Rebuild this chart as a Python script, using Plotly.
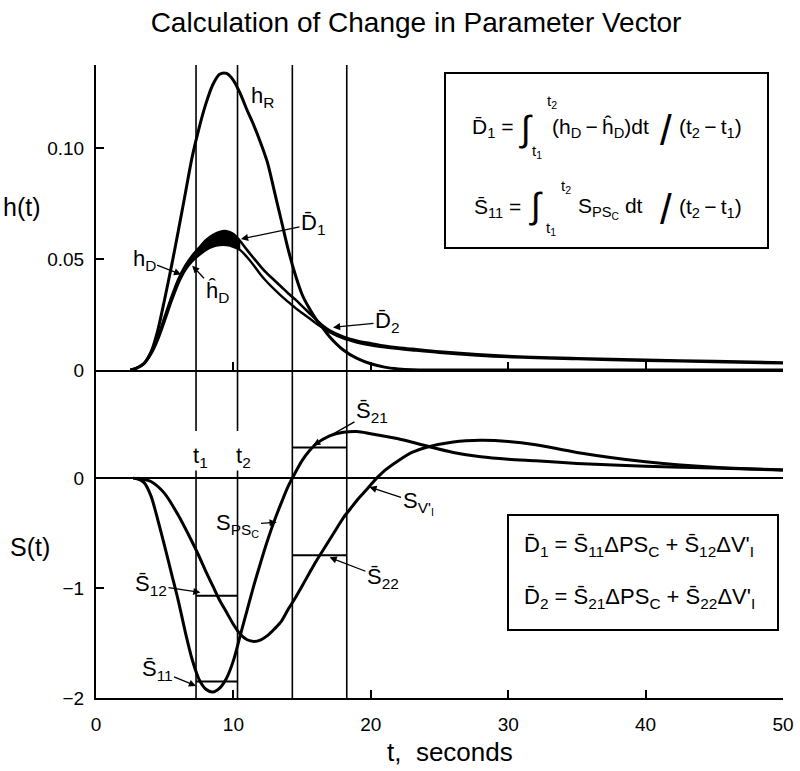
import plotly.graph_objects as go

# ---------------- data ----------------
T_TOP = [2.5, 3, 3.5, 4, 4.5, 5, 5.5, 6, 6.5, 7, 7.5, 8, 8.5, 9, 9.5, 10, 10.5, 11, 11.5, 12,
         12.5, 13, 13.5, 14, 14.5, 15, 15.5, 16, 16.5, 17, 18, 19, 20, 21, 22, 23, 25, 30, 35, 40, 45, 50]
H_R = [0, 0.001, 0.003, 0.008, 0.018, 0.032, 0.047, 0.063, 0.0795, 0.096, 0.109, 0.12, 0.1285, 0.1332,
       0.1336, 0.1305, 0.1245, 0.117, 0.11, 0.102, 0.093, 0.08, 0.067, 0.054, 0.043, 0.034, 0.028, 0.023,
       0.019, 0.015, 0.009, 0.0052, 0.0028, 0.0013, 0.0005, 0.0001, 0, 0, 0, 0, 0, 0]
H_D = [0, 0.001, 0.003, 0.008, 0.015, 0.024, 0.033, 0.041, 0.047, 0.0515, 0.055, 0.0585, 0.0608, 0.0622,
       0.0625, 0.0612, 0.058, 0.054, 0.0502, 0.0465, 0.0432, 0.0403, 0.0374, 0.0345, 0.0318, 0.0288, 0.0258,
       0.0228, 0.02, 0.0178, 0.015, 0.0132, 0.012, 0.0109, 0.0101, 0.0095, 0.0083, 0.0063, 0.0053, 0.0046,
       0.004, 0.0034]
H_D_HAT = [0, 0.001, 0.0028, 0.007, 0.0135, 0.022, 0.031, 0.039, 0.045, 0.049, 0.0518, 0.0541, 0.0556,
           0.0563, 0.0563, 0.0555, 0.054, 0.0508, 0.047, 0.0428, 0.0393, 0.0362, 0.0333, 0.0306, 0.028,
           0.0257, 0.0234, 0.0211, 0.019, 0.017, 0.0142, 0.0124, 0.0111, 0.0102, 0.0095, 0.0089, 0.0078,
           0.0058, 0.0049, 0.0042, 0.0036, 0.003]

T_PSC = [2.7, 3, 3.5, 4, 4.5, 5, 5.5, 6, 6.5, 7, 7.5, 8, 8.5, 9, 9.5, 10, 10.5, 11, 11.5, 12,
         12.5, 13, 13.5, 14, 14.5, 15, 15.5, 16, 17, 18, 19, 20, 22, 24, 26, 28, 30, 32, 35, 40, 45, 50]
S_PSC = [0, -0.005, -0.04, -0.16, -0.38, -0.62, -0.87, -1.12, -1.4, -1.65, -1.83, -1.92, -1.945, -1.91,
         -1.82, -1.66, -1.43, -1.2, -0.97, -0.76, -0.56, -0.38, -0.22, -0.07, 0.05, 0.16, 0.245, 0.31,
         0.385, 0.418, 0.425, 0.405, 0.36, 0.295, 0.235, 0.195, 0.172, 0.158, 0.135, 0.108, 0.093, 0.075]

T_VI = [3, 4, 5, 6, 7, 7.5, 8, 8.5, 9, 9.5, 10, 10.5, 11, 11.5, 12, 12.5, 13, 13.5, 14, 14.5,
        15, 15.5, 16, 16.5, 17, 17.5, 18, 18.5, 19, 19.5, 20, 20.5, 21, 22, 23, 24, 26, 28, 30, 32,
        35, 40, 45, 50]
S_VI = [0, -0.03, -0.14, -0.34, -0.58, -0.71, -0.85, -0.98, -1.11, -1.22, -1.33, -1.42, -1.47, -1.485,
        -1.47, -1.43, -1.37, -1.3, -1.19, -1.09, -0.98, -0.87, -0.76, -0.66, -0.56, -0.46, -0.36, -0.28,
        -0.2, -0.13, -0.06, 0.01, 0.07, 0.16, 0.235, 0.28, 0.33, 0.345, 0.335, 0.305, 0.235, 0.15, 0.1,
        0.075]

# interval boundaries t1, t2, t3, t4 (s)
T_BOUNDS = [7.28, 10.3, 14.29, 18.25]
# averaged sensitivities  S11, S12 (over t1..t2), S21, S22 (over t3..t4)
S_BAR = {"S11": -1.85, "S12": -1.07, "S21": 0.28, "S22": -0.70}

X_TICKS = [0, 10, 20, 30, 40, 50]
H_TICKS = [0, 0.05, 0.10]
H_TICK_TEXT = ["0", "0.05", "0.10"]
S_TICKS = [-2, -1, 0]
S_TICK_TEXT = ["\u22122", "\u22121", "0"]

# ---------------- layout constants ----------------
W, H = 800, 771
ML, MR, MT, MB = 96, 17, 65, 73
PW, PH = W - ML - MR, H - MT - MB
Y_SPLIT = (698 - 370) / PH
H_MAX = 0.1374
S_RANGE = [-2, 0.985]
FONT = "Liberation Sans, Arial, sans-serif"
BLK = "black"


def P(px, py):
    return (px - ML) / PW, (H - MB - py) / PH


FILL_START, FILL_END = 6.5, 10.5

fig = go.Figure()
t1, t2, t3, t4 = T_BOUNDS

# ---- top panel ----
for tb in T_BOUNDS:
    fig.add_trace(go.Scatter(x=[tb, tb], y=[0, H_MAX], mode="lines", xaxis="x2", yaxis="y2",
                             line=dict(color=BLK, width=1.6), hoverinfo="skip"))

idx = [i for i, t in enumerate(T_TOP) if FILL_START <= t <= FILL_END]
fig.add_trace(go.Scatter(x=[T_TOP[i] for i in idx], y=[H_D_HAT[i] for i in idx], mode="lines",
                         xaxis="x2", yaxis="y2", line=dict(color=BLK, width=1, shape="spline"),
                         hoverinfo="skip"))
fig.add_trace(go.Scatter(x=[T_TOP[i] for i in idx], y=[H_D[i] for i in idx], mode="lines",
                         xaxis="x2", yaxis="y2", fill="tonexty", fillcolor=BLK,
                         line=dict(color=BLK, width=1, shape="spline"), hoverinfo="skip"))

for ys, w in ((H_R, 3.0), (H_D, 2.6), (H_D_HAT, 2.4)):
    fig.add_trace(go.Scatter(x=T_TOP, y=ys, mode="lines", xaxis="x2", yaxis="y2",
                             line=dict(color=BLK, width=w, shape="spline", smoothing=0.8),
                             hoverinfo="skip"))

# ---- bottom panel ----
for tb in (t1, t2):
    fig.add_trace(go.Scatter(x=[tb, tb, None, tb, tb], y=[S_RANGE[0], 0.07, None, 0.43, S_RANGE[1]],
                             mode="lines", line=dict(color=BLK, width=1.6), hoverinfo="skip"))
for tb in (t3, t4):
    fig.add_trace(go.Scatter(x=[tb, tb], y=S_RANGE, mode="lines",
                             line=dict(color=BLK, width=1.6), hoverinfo="skip"))

for key, (a, b) in (("S11", (t1, t2)), ("S12", (t1, t2)), ("S21", (t3, t4)), ("S22", (t3, t4))):
    fig.add_trace(go.Scatter(x=[a, b], y=[S_BAR[key], S_BAR[key]], mode="lines",
                             line=dict(color=BLK, width=2), hoverinfo="skip"))

for xs, ys in ((T_PSC, S_PSC), (T_VI, S_VI)):
    fig.add_trace(go.Scatter(x=xs, y=ys, mode="lines",
                             line=dict(color=BLK, width=3, shape="spline", smoothing=0.8),
                             hoverinfo="skip"))

# ---------------- annotations ----------------
ann = []


def txt(px, py, text, size=22, xanchor="center", yanchor="middle"):
    x, y = P(px, py)
    ann.append(dict(x=x, y=y, xref="paper", yref="paper", text=text, showarrow=False,
                    xanchor=xanchor, yanchor=yanchor, font=dict(family=FONT, size=size, color=BLK)))


def arrow(tx, ty, yref, text_px, text_py, text, size=22):
    # arrow tip in data coords; text placed at pixel position
    tip_px = ML + tx / 50 * PW
    if yref == "y2":
        tip_py = 370 - (ty / H_MAX) * (370 - MT)
    else:
        tip_py = 698 - (ty - S_RANGE[0]) / (S_RANGE[1] - S_RANGE[0]) * (698 - 370)
    ann.append(dict(x=tx, y=ty, xref="x", yref=yref, text=text, showarrow=True,
                    ax=text_px - tip_px, ay=text_py - tip_py, arrowhead=2, arrowsize=1.1,
                    arrowwidth=1.3, arrowcolor=BLK, standoff=0,
                    font=dict(family=FONT, size=size, color=BLK)))


M = "\u0304"   # combining macron (bar)
HAT = "\u0302"
TS = "\u2009"  # thin space

# top panel labels
txt(262, 97, "h<sub>R</sub>")
arrow(10.55, 0.059, "y2", 313, 224, "D" + M + "<sub>1</sub>")
arrow(6.2, 0.043, "y2", 144, 260, "h<sub>D</sub>")
arrow(7.0, 0.047, "y2", 217, 292, "h" + HAT + "<sub>D</sub>")
arrow(17.25, 0.0192, "y2", 387, 322, "D" + M + "<sub>2</sub>")

# bottom panel labels
ann.append(dict(x=t1, y=0.19, xref="x", yref="y", xshift=-5, text="t<sub>1</sub>", showarrow=False,
                xanchor="left", yanchor="middle", font=dict(family=FONT, size=22, color=BLK)))
ann.append(dict(x=t2, y=0.19, xref="x", yref="y", xshift=-4, text="t<sub>2</sub>", showarrow=False,
                xanchor="left", yanchor="middle", font=dict(family=FONT, size=22, color=BLK)))
arrow(15.8, 0.30, "y", 372, 412, "S" + M + "<sub>21</sub>")
arrow(13.15, -0.40, "y", 238, 525, "S<sub>PS<sub>C</sub></sub>")
arrow(19.9, -0.08, "y", 418, 503, "S<sub>V'<sub>I</sub></sub>")
arrow(7.6, -1.04, "y", 151, 585, "S" + M + "<sub>12</sub>")
arrow(17.0, -0.72, "y", 383, 578, "S" + M + "<sub>22</sub>")
arrow(7.28, -1.89, "y", 157, 670, "S" + M + "<sub>11</sub>")

# axis titles
txt(22, 207, "h(t)", size=25)
txt(30, 547, "S(t)", size=25)
txt(450, 752, "t,  seconds", size=26)

# top formula box
BS = 21
txt(470, 128, "D" + M + "<sub>1</sub> =", size=BS, xanchor="left")
txt(517, 128, "\u222b", size=36, xanchor="left")
txt(545, 101, "t<sub>2</sub>", size=15, xanchor="left")
txt(530, 151, "t<sub>1</sub>", size=15, xanchor="left")
txt(550, 128, "(h<sub>D</sub>" + TS + "\u2212" + TS + "h" + HAT + "<sub>D</sub>)dt", size=BS, xanchor="left")
txt(666, 130, "/", size=42)
txt(677, 128, "(t<sub>2</sub>" + TS + "\u2212" + TS + "t<sub>1</sub>)", size=BS, xanchor="left")

txt(472, 208, "S" + M + "<sub>11</sub> =", size=BS, xanchor="left")
txt(527, 206, "\u222b", size=36, xanchor="left")
txt(559, 187, "t<sub>2</sub>", size=15, xanchor="left")
txt(544, 228, "t<sub>1</sub>", size=15, xanchor="left")
txt(576, 208, "S<sub>PS<sub>C</sub></sub> dt", size=BS, xanchor="left")
txt(666, 210, "/", size=42)
txt(677, 208, "(t<sub>2</sub>" + TS + "\u2212" + TS + "t<sub>1</sub>)", size=BS, xanchor="left")

# bottom formula box
txt(522, 546, "D" + M + "<sub>1</sub> = S" + M + "<sub>11</sub>\u0394PS<sub>C</sub> + S" + M +
    "<sub>12</sub>\u0394V'<sub>I</sub>", size=22, xanchor="left")
txt(522, 598, "D" + M + "<sub>2</sub> = S" + M + "<sub>21</sub>\u0394PS<sub>C</sub> + S" + M +
    "<sub>22</sub>\u0394V'<sub>I</sub>", size=22, xanchor="left")

shapes = []
for (x0p, y0p, x1p, y1p) in ((445, 73, 768, 248), (508, 515, 778, 630)):
    a0 = P(x0p, y1p)
    a1 = P(x1p, y0p)
    shapes.append(dict(type="rect", xref="paper", yref="paper", x0=a0[0], y0=a0[1], x1=a1[0], y1=a1[1],
                       line=dict(color=BLK, width=2), fillcolor="rgba(0,0,0,0)"))

axis_common = dict(showgrid=False, showline=True, linecolor=BLK, linewidth=2, ticks="inside",
                   tickcolor=BLK, tickwidth=2, ticklen=8, automargin=False,
                   tickfont=dict(family=FONT, size=19, color=BLK))

fig.update_layout(
    width=W, height=H, margin=dict(l=ML, r=MR, t=MT, b=MB, autoexpand=False), showlegend=False,
    plot_bgcolor="white", paper_bgcolor="white",
    title=dict(text="Calculation of Change in Parameter Vector", x=0.52, xanchor="center",
               y=1 - 22 / H, yanchor="middle", font=dict(family=FONT, size=28, color=BLK)),
    xaxis=dict(axis_common, domain=[0, 1], range=[0, 50], anchor="y", tickvals=X_TICKS,
               zeroline=False, ticklabelstandoff=8),
    yaxis=dict(axis_common, domain=[0, Y_SPLIT], range=S_RANGE, tickvals=S_TICKS, ticktext=S_TICK_TEXT,
               zeroline=True, zerolinecolor=BLK, zerolinewidth=1.6, ticklabelstandoff=6),
    xaxis2=dict(axis_common, domain=[0, 1], range=[0, 50], anchor="y2", matches="x", tickvals=X_TICKS,
                showticklabels=False, zeroline=False),
    yaxis2=dict(axis_common, domain=[Y_SPLIT, 1], range=[0, H_MAX], tickvals=H_TICKS,
                ticktext=H_TICK_TEXT, zeroline=False, ticklabelstandoff=6),
    annotations=ann, shapes=shapes,
)

fig.write_html("out.html", config={"displayModeBar": False},
               post_script="document.body.style.margin='0';document.body.style.overflow='hidden';")
